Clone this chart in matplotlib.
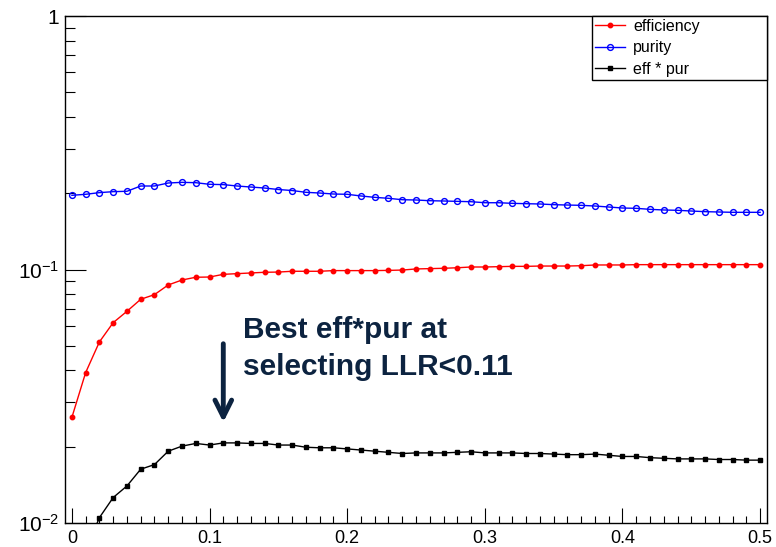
import numpy as np
import matplotlib
matplotlib.use('Agg')
import matplotlib.pyplot as plt
from matplotlib.ticker import FixedLocator, NullFormatter, MultipleLocator, FuncFormatter

plt.rcParams['font.family'] = ['Liberation Sans', 'DejaVu Sans']
plt.rcParams['mathtext.fontset'] = 'custom'
plt.rcParams['mathtext.rm'] = 'Liberation Sans'
plt.rcParams['mathtext.it'] = 'Liberation Sans:italic'

# LLR cut values (x axis)
llr_cut = np.round(np.arange(0, 51) * 0.01, 2)

efficiency = [0.0261, 0.0392, 0.0518, 0.0617, 0.0684, 0.0763, 0.0796, 0.0869, 0.0909, 0.0932,
              0.0934, 0.0957, 0.0963, 0.0969, 0.0975, 0.0977, 0.0984, 0.0984, 0.0984, 0.0990,
              0.0990, 0.0990, 0.0990, 0.0992, 0.0995, 0.1005, 0.1008, 0.1011, 0.1016, 0.1023,
              0.1023, 0.1026, 0.1029, 0.1029, 0.1032, 0.1032, 0.1032, 0.1035, 0.1042, 0.1042,
              0.1042, 0.1045, 0.1045, 0.1045, 0.1045, 0.1045, 0.1045, 0.1045, 0.1045, 0.1045,
              0.1045]

purity = [0.1962, 0.1980, 0.2010, 0.2028, 0.2035, 0.2135, 0.2135, 0.2194, 0.2207, 0.2200,
          0.2168, 0.2162, 0.2135, 0.2115, 0.2096, 0.2068, 0.2049, 0.2016, 0.2003, 0.1985,
          0.1980, 0.1950, 0.1926, 0.1909, 0.1885, 0.1880, 0.1868, 0.1863, 0.1857, 0.1851,
          0.1834, 0.1834, 0.1824, 0.1818, 0.1813, 0.1802, 0.1796, 0.1791, 0.1780, 0.1764,
          0.1748, 0.1743, 0.1727, 0.1717, 0.1712, 0.1701, 0.1691, 0.1686, 0.1681, 0.1681,
          0.1681]

eff_pur = [0.0051, 0.0078, 0.0105, 0.0126, 0.0140, 0.0163, 0.0170, 0.0192, 0.0201, 0.0206,
           0.0203, 0.0207, 0.0207, 0.0206, 0.0206, 0.0203, 0.0203, 0.0199, 0.0198, 0.0198,
           0.0196, 0.0194, 0.0192, 0.0190, 0.0188, 0.0189, 0.0189, 0.0189, 0.0190, 0.0191,
           0.0189, 0.0189, 0.0189, 0.0188, 0.0188, 0.0187, 0.0186, 0.0186, 0.0187, 0.0185,
           0.0183, 0.0183, 0.0181, 0.0180, 0.0179, 0.0179, 0.0179, 0.0178, 0.0178, 0.0177,
           0.0177]

best_cut = 0.11
note = 'Best eff*pur at\nselecting LLR<0.11'

fig = plt.figure(figsize=(7.76, 5.47), dpi=100)
ax = fig.add_axes([65 / 776, 1 - 523 / 547, 702 / 776, 507 / 547])

ax.plot(llr_cut, efficiency, color='red', lw=1, marker='o', ms=3.2, label='efficiency')
ax.plot(llr_cut, purity, color='blue', lw=1, marker='o', ms=4.2, mfc='none', mew=1.0, label='purity')
ax.plot(llr_cut, eff_pur, color='black', lw=1, marker='s', ms=3.5, label='eff * pur')

ax.set_yscale('log')
ax.set_xlim(-0.005, 0.505)
ax.set_ylim(0.01, 1)

# ROOT-like ticks
ax.yaxis.set_major_locator(FixedLocator([0.01, 0.1, 1]))
ax.set_yticklabels(['$10^{-2}$', '$10^{-1}$', '1'])
ax.yaxis.set_minor_formatter(NullFormatter())
ax.xaxis.set_major_locator(MultipleLocator(0.1))
ax.xaxis.set_minor_locator(MultipleLocator(0.01))
ax.xaxis.set_major_formatter(FuncFormatter(lambda v, p: '0' if abs(v) < 1e-9 else '%g' % v))
ax.tick_params(axis='x', which='major', direction='in', length=10.8, width=0.8, labelsize=13, pad=5)
ax.tick_params(axis='x', which='minor', direction='in', length=5.2, width=0.8)
ax.tick_params(axis='y', which='major', direction='in', length=15, width=0.8, labelsize=15, pad=4)
ax.tick_params(axis='y', which='minor', direction='in', length=7.5, width=0.8)
for sp in ax.spines.values():
    sp.set_linewidth(1.0)

leg = ax.legend(loc='upper left', bbox_to_anchor=(0.7507, 0.0, 0.2493, 1.0), mode='expand',
                fontsize=11.5, frameon=True, fancybox=False, framealpha=1, edgecolor='black',
                borderpad=0.18, labelspacing=0.41, handlelength=1.9, handletextpad=0.5,
                numpoints=1, borderaxespad=0)
leg.get_frame().set_linewidth(1.0)

navy = '#0c2340'
ax.annotate('', xy=(best_cut, 0.1933), xytext=(best_cut, 0.359),
            xycoords=('data', 'axes fraction'), textcoords=('data', 'axes fraction'),
            arrowprops=dict(arrowstyle='->', lw=3.5, color=navy, mutation_scale=30))
ax.text(0.124, 0.408, note, transform=ax.get_xaxis_transform(), fontsize=21.5,
        fontweight='bold', color=navy, va='top', ha='left', linespacing=1.38)

plt.savefig('out.png', dpi=100)
